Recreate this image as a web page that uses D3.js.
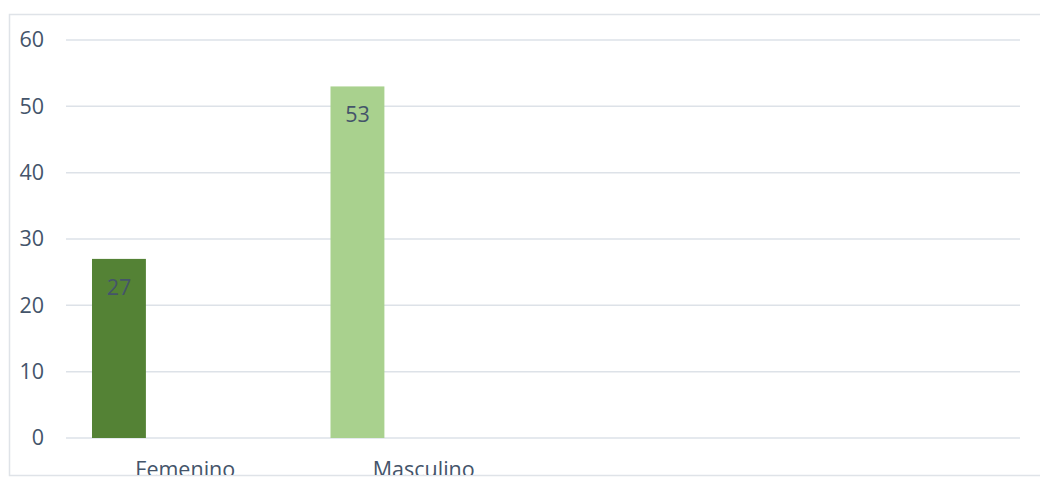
<!DOCTYPE html>
<html>
<head>
<meta charset="utf-8">
<script src="https://cdn.jsdelivr.net/npm/d3@7"></script>
<style>
  html, body { margin: 0; padding: 0; background: #fff; }
  svg { display: block; }
  text { font-family: "Open Sans", "Noto Sans", sans-serif; fill: #44546a; }
</style>
</head>
<body>
<svg id="chart" width="1040" height="477"></svg>
<script>
// Category slots along the x axis (the last two are unused, blank slots)
const categories = ["Femenino", "Masculino", "", " "];
const values = [27, 53, null, null];
const barColors = ["#548235", "#a9d18e", "#a9d18e", "#a9d18e"];
const yTicks = [0, 10, 20, 30, 40, 50, 60];

const W = 1040, H = 477;
const plot = { left: 66, right: 1020, top: 40, bottom: 438 };
const fontSize = 21.5;

const svg = d3.select("#chart");

// Outer chart frame
svg.append("rect")
  .attr("x", 9.5).attr("y", 14.5)
  .attr("width", 1040).attr("height", 461)
  .attr("fill", "#fff")
  .attr("stroke", "#dfe3e8").attr("stroke-width", 1.5);

const x = d3.scaleBand()
  .domain(categories)
  .range([plot.left, plot.right])
  .padding(0);

const y = d3.scaleLinear()
  .domain([0, 60])
  .range([plot.bottom, plot.top]);

// Horizontal gridlines
svg.append("g")
  .selectAll("line")
  .data(yTicks)
  .join("line")
  .attr("x1", plot.left).attr("x2", plot.right)
  .attr("y1", d => y(d)).attr("y2", d => y(d))
  .attr("stroke", "#dde2e8").attr("stroke-width", 1.5);

// Y axis labels
const yAxis = d3.axisLeft(y).tickValues(yTicks).tickSize(0).tickPadding(0);
const gy = svg.append("g").attr("transform", "translate(44,0)").call(yAxis);
gy.select(".domain").remove();
gy.selectAll("text")
  .attr("font-size", fontSize)
  .attr("fill", "#44546a")
  .style("font-family", "'Open Sans', sans-serif");

// Bars sit toward the left of each category slot
const barOffset = 0.109, barWidth = 0.226;
const data = categories.map((c, i) => ({ c, v: values[i], color: barColors[i] }))
  .filter(d => d.v != null);

svg.append("g")
  .selectAll("rect")
  .data(data)
  .join("rect")
  .attr("x", d => x(d.c) + x.bandwidth() * barOffset)
  .attr("width", x.bandwidth() * barWidth)
  .attr("y", d => y(d.v))
  .attr("height", d => y(0) - y(d.v))
  .attr("fill", d => d.color);

// Value labels inside the top of each bar
svg.append("g")
  .selectAll("text")
  .data(data)
  .join("text")
  .attr("x", d => x(d.c) + x.bandwidth() * (barOffset + barWidth / 2))
  .attr("y", d => y(d.v) + 36)
  .attr("text-anchor", "middle")
  .attr("font-size", fontSize)
  .text(d => d.v);

// Category labels, cut off by the bottom of the chart frame
svg.append("clipPath").attr("id", "frameClip")
  .append("rect").attr("x", 0).attr("y", 0).attr("width", W).attr("height", 475);

svg.append("g")
  .attr("clip-path", "url(#frameClip)")
  .selectAll("text")
  .data(categories)
  .join("text")
  .attr("x", d => x(d) + x.bandwidth() / 2)
  .attr("y", 477)
  .attr("text-anchor", "middle")
  .attr("font-size", fontSize)
  .text(d => d);
</script>
</body>
</html>
